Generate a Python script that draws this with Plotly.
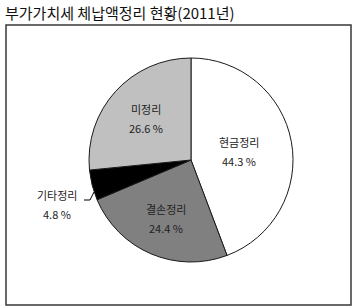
import math
import plotly.graph_objects as go

title = "부가가치세 체납액정리 현황(2011년)"
labels = ["현금정리", "결손정리", "기타정리", "미정리"]
values = [44.3, 24.4, 4.8, 26.6]
colors = ["#ffffff", "#808080", "#000000", "#c0c0c0"]

W, H = 354, 308
cx, cy, R = 191, 160, 102
# radial position (fraction of radius) of each inside label; None = outside label
label_r = [0.48, 0.62, None, 0.60]

def px(x):
    return x / W

def py(y):
    return 1 - y / H

fig = go.Figure(go.Pie(
    labels=labels,
    values=values,
    sort=False,
    direction="clockwise",
    rotation=0,
    marker=dict(colors=colors, line=dict(color="#1a1a1a", width=1)),
    textinfo="none",
    hoverinfo="skip",
    showlegend=False,
    domain=dict(x=[px(cx - R), px(cx + R)], y=[py(cy + R), py(cy - R)]),
))

font = dict(family="Noto Sans CJK KR", size=11, color="#222222")


def label(x, y, text):
    fig.add_annotation(x=px(x), y=py(y), xref="paper", yref="paper",
                       xanchor="center", yanchor="middle",
                       text=text, showarrow=False, font=font)


total = sum(values)
cum = 0.0
for lab, val, rf in zip(labels, values, label_r):
    mid = (cum + val / 2) / total * 2 * math.pi
    cum += val
    if rf is None:
        continue
    x = cx + rf * R * math.sin(mid)
    y = cy - rf * R * math.cos(mid)
    label(x, y - 9.5, lab)
    label(x, y + 9.5, f"{val:.1f} %")

# outside label for the small slice
label(57, 195, labels[2])
label(57, 214, f"{values[2]:.1f} %")
fig.add_shape(type="path", xref="paper", yref="paper",
              path=f"M {px(84)} {py(200)} L {px(90)} {py(200)} L {px(94)} {py(192)}",
              line=dict(color="#000000", width=1))

fig.add_annotation(
    x=px(3), y=py(12), xref="paper", yref="paper", xanchor="left", yanchor="middle",
    text=title, showarrow=False,
    font=dict(family="Noto Sans CJK KR", size=15, color="#111111"),
)

fig.add_shape(type="rect", xref="paper", yref="paper",
              x0=px(6), x1=px(351), y0=py(305), y1=py(25),
              line=dict(color="#383838", width=1.5))

fig.update_layout(
    width=W, height=H,
    margin=dict(l=0, r=0, t=0, b=0),
    paper_bgcolor="white", plot_bgcolor="white",
)

fig.write_html("out.html")
